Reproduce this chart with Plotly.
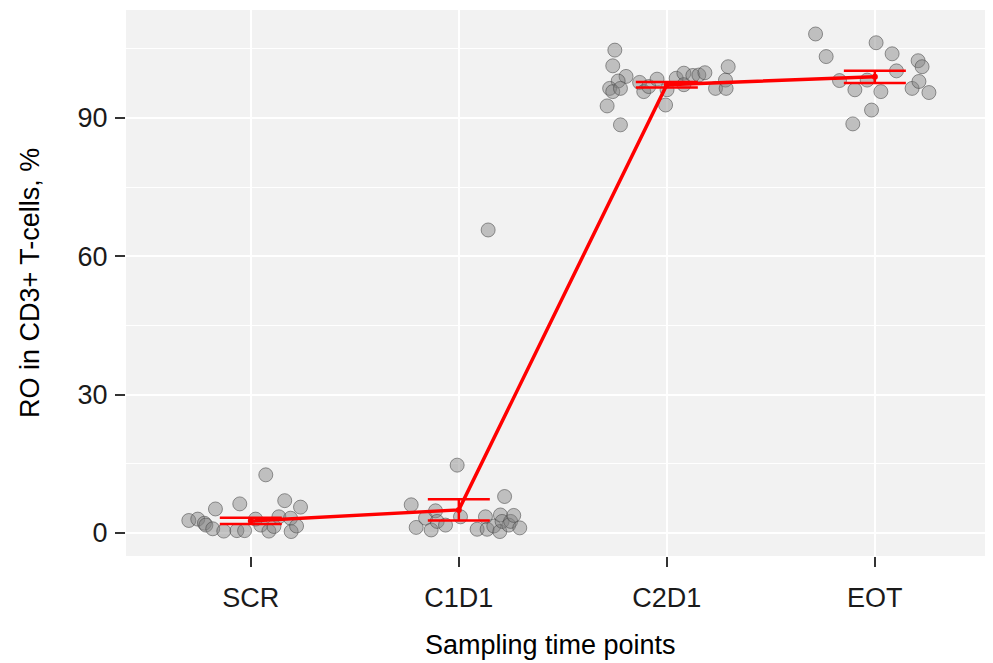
import plotly.graph_objects as go

# ---- data ----
categories = ["SCR", "C1D1", "C2D1", "EOT"]

# individual measurements (value, %) and horizontal jitter offset (category units)
scr_values = [2.7, 3.0, 2.1, 1.7, 0.9, 5.2, 0.4, 0.5, 6.3, 0.5, 3.0, 1.7, 12.6, 0.4, 1.4,
              3.5, 7.0, 3.2, 0.3, 1.5, 5.6]
scr_jitter = [-0.298, -0.255, -0.223, -0.216, -0.183, -0.170, -0.130, -0.067, -0.053, -0.030,
              0.023, 0.048, 0.072, 0.087, 0.111, 0.135, 0.163, 0.191, 0.194, 0.220, 0.239]

c1d1_values = [6.1, 1.2, 3.2, 0.65, 4.8, 2.5, 1.7, 14.7, 3.5, 0.8, 3.5, 0.8, 65.7, 1.5, 0.3,
               3.9, 2.5, 7.9, 1.7, 2.5, 3.8, 1.1]
c1d1_jitter = [-0.229, -0.205, -0.160, -0.133, -0.112, -0.104, -0.064, -0.008, 0.008, 0.088,
               0.128, 0.136, 0.141, 0.168, 0.197, 0.200, 0.208, 0.220, 0.240, 0.249, 0.264, 0.293]

c2d1_values = [104.7, 101.3, 99.0, 98.0, 96.4, 95.7, 96.4, 92.6, 88.5, 97.7, 95.7, 96.8, 98.4,
               96.1, 92.8, 98.6, 99.7, 97.2, 99.2, 99.3, 99.8, 96.4, 98.2, 101.1, 96.4]
c2d1_jitter = [-0.250, -0.260, -0.196, -0.234, -0.275, -0.260, -0.223, -0.287, -0.223, -0.131,
               -0.111, -0.087, -0.047, 0.001, -0.006, 0.045, 0.082, 0.082, 0.125, 0.154, 0.183,
               0.234, 0.282, 0.295, 0.285]

eot_values = [108.2, 103.3, 98.1, 96.1, 88.7, 98.2, 91.7, 106.3, 95.7, 103.9, 100.2, 96.4,
              102.4, 101.1, 97.9, 95.5]
eot_jitter = [-0.285, -0.234, -0.170, -0.096, -0.106, -0.037, -0.016, 0.006, 0.029, 0.083,
              0.104, 0.179, 0.208, 0.227, 0.212, 0.260]

# summary (mean and error) per time point
mean_values = [2.6, 5.0, 97.2, 98.9]
error_values = [0.68, 2.3, 0.6, 1.35]

y_ticks = [0, 30, 60, 90]
y_minor = [15, 45, 75, 105]

x_title = "Sampling time points"
y_title = "RO in CD3+ T-cells, %"

# ---- figure ----
groups = [scr_values, c1d1_values, c2d1_values, eot_values]
jitters = [scr_jitter, c1d1_jitter, c2d1_jitter, eot_jitter]

px_all, py_all = [], []
for i, (vals, jit) in enumerate(zip(groups, jitters)):
    for v, j in zip(vals, jit):
        px_all.append(i + j)
        py_all.append(v)

fig = go.Figure()
fig.add_trace(go.Scatter(
    x=px_all, y=py_all, mode="markers",
    marker=dict(size=14, color="rgba(128,128,128,0.45)",
                line=dict(color="rgba(70,70,70,0.55)", width=1)),
    showlegend=False, hoverinfo="skip"))

fig.add_trace(go.Scatter(
    x=list(range(len(categories))), y=mean_values, mode="lines+markers",
    line=dict(color="#ff0000", width=3.5),
    marker=dict(size=6, color="#ff0000"),
    error_y=dict(type="data", array=error_values, visible=True,
                 color="#ff0000", thickness=2.5, width=31),
    showlegend=False))

font_family = "Liberation Sans, Arial, sans-serif"
FS = 27

# page body has an 8px margin: figure is sized/offset to compensate
fig.update_layout(
    width=985, height=655,
    margin=dict(l=118, r=0, t=2, b=107),
    paper_bgcolor="white",
    plot_bgcolor="#f2f2f2",
    font=dict(family=font_family, size=FS, color="#1a1a1a"),
    xaxis=dict(
        range=[-0.6, 3.568], tickmode="array",
        tickvals=list(range(len(categories))), ticktext=categories,
        showgrid=True, gridcolor="white", gridwidth=2,
        zeroline=False, showline=False,
        ticks="outside", ticklen=10, tickwidth=2, tickcolor="#333333",
        ticklabelstandoff=8,
        tickfont=dict(size=FS, color="#1a1a1a"),
    ),
    yaxis=dict(
        range=[-5.0, 113.4], tickmode="array", tickvals=y_ticks,
        showgrid=True, gridcolor="white", gridwidth=2,
        minor=dict(tickmode="array", tickvals=y_minor, showgrid=True,
                   gridcolor="white", gridwidth=1, ticks=""),
        zeroline=False, showline=False,
        ticks="outside", ticklen=10, tickwidth=2, tickcolor="#333333",
        ticklabelstandoff=2,
        tickfont=dict(size=FS, color="#1a1a1a"),
    ),
    annotations=[
        dict(text=x_title, xref="paper", yref="paper", x=0.49, y=-(645 - 556) / 546,
             xanchor="center", yanchor="middle", showarrow=False,
             font=dict(size=FS, color="#000000")),
        dict(text=y_title, xref="paper", yref="paper", x=(30 - 126) / 867, y=0.5,
             xanchor="center", yanchor="middle", textangle=-90, showarrow=False,
             font=dict(size=FS, color="#000000")),
    ],
)

fig.write_html("out.html")
